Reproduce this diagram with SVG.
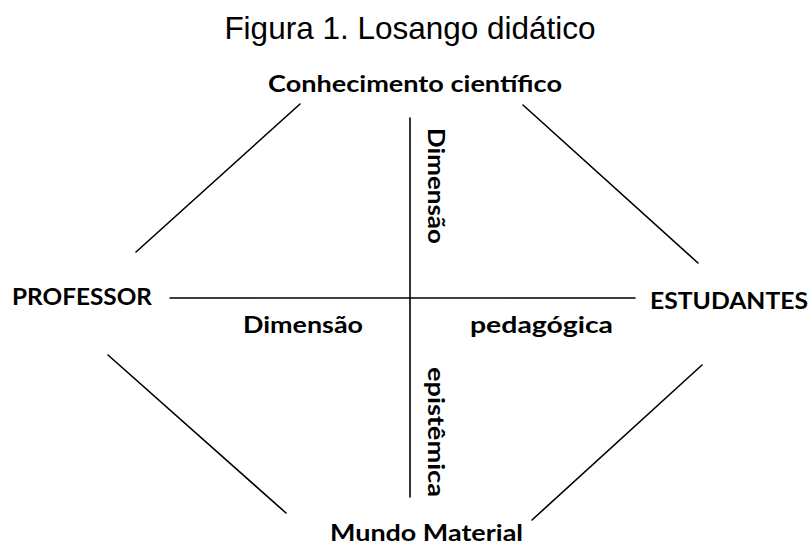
<svg xmlns="http://www.w3.org/2000/svg" width="811" height="548" viewBox="0 0 811 548">
<style>
.title{font-family:"Liberation Sans",Arial,sans-serif;font-size:31.5px;fill:#000}
.lbl{font-family:Lato,"Open Sans",sans-serif;font-weight:bold;font-size:23px;fill:#000}
.ln{stroke:#000;stroke-width:1.6;fill:none;stroke-linecap:round}
</style>
<rect width="811" height="548" fill="#fff"/>
<text class="title" x="410" y="39" text-anchor="middle">Figura 1. Losango didático</text>
<g id="connectors">
<line class="ln" x1="300" y1="104" x2="136" y2="252"/>
<line class="ln" x1="523" y1="105" x2="698" y2="263"/>
<line class="ln" x1="108" y1="355" x2="286" y2="513"/>
<line class="ln" x1="702" y1="365" x2="532" y2="520"/>
<line class="ln" x1="410" y1="118" x2="410" y2="497"/>
<line class="ln" x1="170" y1="298" x2="635" y2="298"/>
</g>
<g id="conhecimento"><text class="lbl" x="268" y="92" textLength="294" lengthAdjust="spacingAndGlyphs">Conhecimento científico</text></g>
<g id="professor"><text class="lbl" x="12" y="305" textLength="140" lengthAdjust="spacingAndGlyphs">PROFESSOR</text></g>
<g id="estudantes"><text class="lbl" x="650" y="309" textLength="158" lengthAdjust="spacingAndGlyphs">ESTUDANTES</text></g>
<g id="mundo"><text class="lbl" x="330" y="541" textLength="193" lengthAdjust="spacingAndGlyphs">Mundo Material</text></g>
<g id="dim-h"><text class="lbl" x="243" y="333" textLength="120" lengthAdjust="spacingAndGlyphs">Dimensão</text></g>
<g id="pedagogica"><text class="lbl" x="470" y="333" textLength="143" lengthAdjust="spacingAndGlyphs">pedagógica</text></g>
<g id="dim-v"><text class="lbl" transform="translate(428,128) rotate(90)" x="0" y="0" textLength="116" lengthAdjust="spacingAndGlyphs">Dimensão</text></g>
<g id="epistemica"><text class="lbl" transform="translate(428,367) rotate(90)" x="0" y="0" textLength="130" lengthAdjust="spacingAndGlyphs">epistêmica</text></g>
</svg>
